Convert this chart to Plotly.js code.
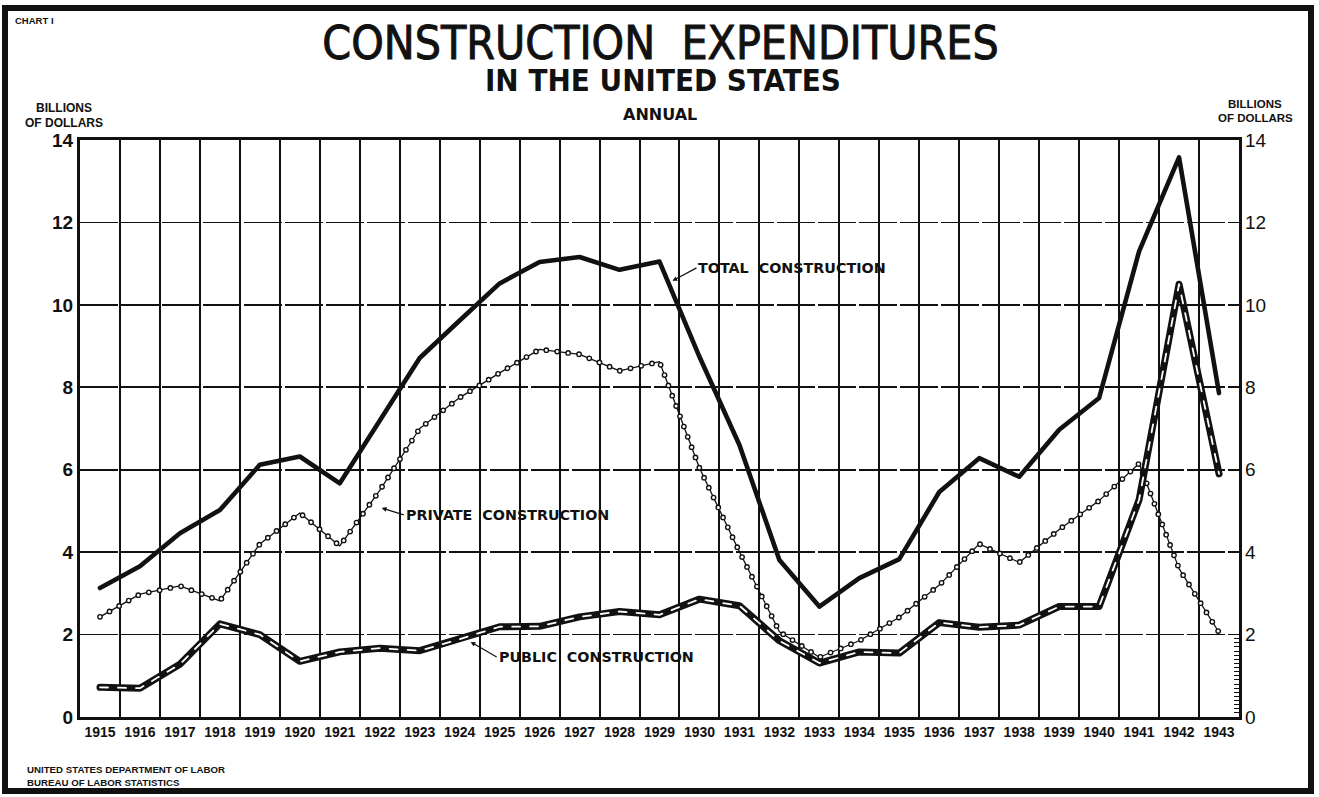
<!DOCTYPE html>
<html>
<head>
<meta charset="utf-8">
<script src="https://cdn.plot.ly/plotly-3.0.1.min.js"></script>
<style>
  html, body { margin: 0; padding: 0; background: #fff; }
  #chart { width: 1319px; height: 797px; }
  .scatterlayer .js-line { stroke-linecap: round; stroke-linejoin: round; }
  .gtitle { stroke: #111; stroke-width: 0.9px; }
</style>
</head>
<body>
<div id="chart"></div>
<script>
// ---- data (billions of dollars) ----
const years = [1915,1916,1917,1918,1919,1920,1921,1922,1923,1924,1925,1926,1927,1928,1929,
               1930,1931,1932,1933,1934,1935,1936,1937,1938,1939,1940,1941,1942,1943];
const totalConstruction = [3.13,3.66,4.46,5.02,6.12,6.32,5.67,7.2,8.71,9.62,10.52,11.04,11.16,10.85,11.05,
                           8.74,6.6,3.81,2.68,3.37,3.83,5.46,6.28,5.83,6.97,7.74,11.3,13.58,7.86];
const privateConstruction = [2.43,2.98,3.18,2.82,4.2,4.95,4.15,5.5,7.0,7.75,8.35,8.92,8.8,8.4,8.62,
                             6.04,4.01,2.07,1.45,1.85,2.42,3.2,4.2,3.75,4.55,5.25,6.15,3.6,2.05];
const publicConstruction = [0.72,0.7,1.28,2.26,2.0,1.35,1.58,1.67,1.61,1.89,2.19,2.2,2.43,2.56,2.48,
                            2.86,2.7,1.85,1.31,1.58,1.55,2.29,2.18,2.23,2.68,2.68,5.27,10.5,5.9];
const yTicks = [0,2,4,6,8,10,12,14];
const yTickText = ['0','2','4','6','8','10','12','14'];
const yearLabels = years.map(String);

// ---- layout helpers ----
const W = 1319, H = 797, ML = 80, MR = 80, MT = 140, MB = 80;
const PW = W - ML - MR, PH = H - MT - MB;
const px = x => (x - ML) / PW;          // pixel -> paper x
const py = y => (H - MB - y) / PH;      // pixel -> paper y
const halfYears = years.slice(0, -1).map(y => y + 0.5);
const rightMinor = [];
for (let i = 1; i < 20; i++) rightMinor.push(i / 10);

const ink = '#111';
const boldFont = 'Liberation Sans, Arial, sans-serif';

const traces = [
  // private: thin line + hollow circles
  { x: years, y: privateConstruction, type: 'scatter', mode: 'lines',
    line: { color: ink, width: 1.3 }, hoverinfo: 'skip', showlegend: false },
  { x: years, y: privateConstruction, type: 'scatter', mode: 'lines',
    line: { color: ink, width: 5.8, dash: '0px,11px' }, hoverinfo: 'skip', showlegend: false },
  { x: years, y: privateConstruction, type: 'scatter', mode: 'lines',
    line: { color: '#fff', width: 3.0, dash: '0px,11px' }, hoverinfo: 'skip', showlegend: false },
  // public: thick black with white dashes inside
  { x: years, y: publicConstruction, type: 'scatter', mode: 'lines',
    line: { color: ink, width: 7 }, hoverinfo: 'skip', showlegend: false },
  { x: years, y: publicConstruction, type: 'scatter', mode: 'lines',
    line: { color: '#fff', width: 1.8, dash: '8px,10px' }, hoverinfo: 'skip', showlegend: false },
  // total: thick solid
  { x: years, y: totalConstruction, type: 'scatter', mode: 'lines', yaxis: 'y2',
    line: { color: ink, width: 4.6 }, hoverinfo: 'skip', showlegend: false }
];

const annFont = { family: 'DejaVu Sans, sans-serif', size: 14.3, color: ink, weight: 'bold' };
const smallBold = s => ({ family: boldFont, size: s, color: ink, weight: 'bold' });
const txt = (text, x, y, xanchor, font) => ({
  text, xref: 'paper', yref: 'paper', x: px(x), y: py(y),
  xanchor, yanchor: 'middle', showarrow: false, align: xanchor === 'left' ? 'left' : 'center', font
});

const layout = {
  width: W, height: H, autosize: false,
  margin: { l: ML, r: MR, t: MT, b: MB, pad: 0 },
  paper_bgcolor: '#fff', plot_bgcolor: '#fff',
  showlegend: false,
  title: {
    text: 'CONSTRUCTION\u00a0 EXPENDITURES',
    x: px(660.5), xanchor: 'center', xref: 'paper',
    y: 1 - 43 / H, yanchor: 'middle', yref: 'container',
    font: { family: 'DejaVu Sans Condensed, DejaVu Sans, sans-serif', size: 46, color: ink }
  },
  xaxis: {
    range: [1914.5, 1943.5], fixedrange: true,
    tickmode: 'array', tickvals: years, ticktext: yearLabels,
    ticks: '', showgrid: false, zeroline: false,
    showline: true, linecolor: ink, linewidth: 3, mirror: true,
    tickfont: { family: boldFont, size: 14, color: ink, weight: 'bold' },
    minor: { tickmode: 'array', tickvals: halfYears, showgrid: true,
             gridcolor: ink, gridwidth: 2, ticks: '' }
  },
  yaxis: {
    range: [0, 14], fixedrange: true,
    tickmode: 'array', tickvals: yTicks, ticktext: yTickText,
    ticks: '', showgrid: true, gridcolor: ink, gridwidth: 1.6, griddash: '38px,3px',
    zeroline: false, showline: true, linecolor: ink, linewidth: 3, mirror: true,
    tickfont: { family: boldFont, size: 19, color: ink, weight: 'bold' }
  },
  yaxis2: {
    overlaying: 'y', side: 'right', range: [0, 14], fixedrange: true,
    tickmode: 'array', tickvals: yTicks, ticktext: yTickText,
    ticks: '', showgrid: false, zeroline: false, showline: false,
    ticklabelstandoff: 5,
    tickfont: { family: boldFont, size: 19, color: ink },
    minor: { tickmode: 'array', tickvals: rightMinor, ticks: 'inside', ticklen: 5,
             tickcolor: ink, tickwidth: 1, showgrid: false }
  },
  annotations: [
    txt('IN THE UNITED STATES', 662.5, 80, 'center',
        { family: 'DejaVu Sans Condensed, DejaVu Sans, sans-serif', size: 31, color: ink, weight: 'bold' }),
    txt('ANNUAL', 660, 115, 'center',
        { family: 'DejaVu Sans, sans-serif', size: 16, color: ink, weight: 'bold' }),
    txt('CHART I', 13, 21, 'left', smallBold(9.5)),
    txt('BILLIONS', 63.5, 107.5, 'center', smallBold(12)),
    txt('OF DOLLARS', 63.5, 122.5, 'center', smallBold(12)),
    txt('BILLIONS', 1254.5, 104, 'center', smallBold(11.5)),
    txt('OF DOLLARS', 1255, 117.5, 'center', smallBold(11.5)),
    txt('UNITED STATES DEPARTMENT OF LABOR<br>BUREAU OF LABOR STATISTICS', 25, 776, 'left', smallBold(9.7)),
    { text: 'TOTAL\u00a0 CONSTRUCTION', x: 1914.5 + (673 - 80) / 40, y: (717 - 281) / 41.2,
      xref: 'x', yref: 'y', showarrow: true, ax: 24, ay: -13, xanchor: 'left', yanchor: 'middle',
      arrowhead: 2, arrowsize: 0.8, arrowwidth: 1.2, arrowcolor: ink, standoff: 0,
      font: annFont },
    { text: 'PRIVATE\u00a0 CONSTRUCTION', x: 1914.5 + (382 - 80) / 40, y: (717 - 508) / 41.2,
      xref: 'x', yref: 'y', showarrow: true, ax: 22, ay: 7, xanchor: 'left', yanchor: 'middle',
      arrowhead: 2, arrowsize: 0.8, arrowwidth: 1.2, arrowcolor: ink, standoff: 0,
      font: annFont },
    { text: 'PUBLIC\u00a0 CONSTRUCTION', x: 1914.5 + (471 - 80) / 40, y: (717 - 642) / 41.2,
      xref: 'x', yref: 'y', showarrow: true, ax: 26, ay: 15, xanchor: 'left', yanchor: 'middle',
      arrowhead: 2, arrowsize: 0.8, arrowwidth: 1.2, arrowcolor: ink, standoff: 0,
      font: annFont }
  ],
  shapes: [
    { type: 'rect', xref: 'paper', yref: 'paper',
      x0: px(5), x1: px(1311), y0: py(791), y1: py(8),
      line: { color: ink, width: 6 }, fillcolor: 'rgba(0,0,0,0)', layer: 'above' }
  ]
};

Plotly.newPlot('chart', traces, layout, { staticPlot: true, displayModeBar: false });
</script>
</body>
</html>
